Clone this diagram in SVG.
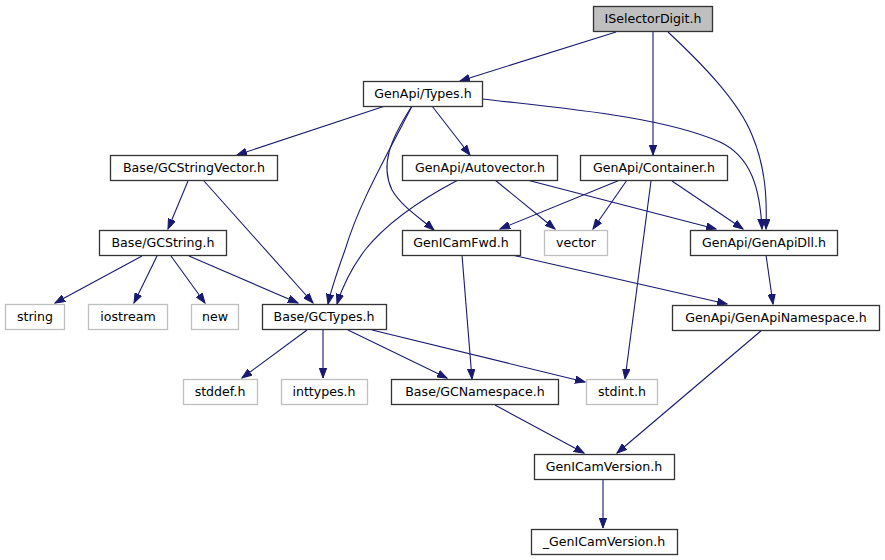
<svg xmlns="http://www.w3.org/2000/svg" width="885" height="560" viewBox="0 0 885 560">
<defs>
<marker id="ah" markerUnits="userSpaceOnUse" markerWidth="11" markerHeight="8" refX="10" refY="4" orient="auto">
<path d="M0,0.3 L10,4 L0,7.7 z" fill="#191970" stroke="#191970" stroke-width="1"/>
</marker>
<style>
.n rect{fill:#ffffff;stroke:#333333;stroke-width:1.3}
.g rect{fill:#ffffff;stroke:#bfbfbf;stroke-width:1.3}
text{font-family:"DejaVu Sans","Liberation Sans",sans-serif;font-size:12.6px;fill:#000;text-anchor:middle}
#edges path{fill:none;stroke:#191970;stroke-width:1.1;marker-end:url(#ah)}
</style>
</defs>
<rect width="885" height="560" fill="#ffffff"/>
<g id="edges">
<path d="M616,32 L460,81"/>
<path d="M653,32 L653,155"/>
<path d="M668,32 C700,62 738,100 752,135 C766,168 767,200 766,229"/>
<path d="M385,106 L237,155"/>
<path d="M412,106 C390,150 360,200 345,250 C336,275 331,290 328,304"/>
<path d="M412,106 C390,140 380,165 392,190 C402,207 420,218 434,230"/>
<path d="M432,106 L470,155"/>
<path d="M482,99 C560,108 660,116 720,142 C752,157 760,190 762,229"/>
<path d="M188,181 L168,229"/>
<path d="M204,181 L313,303"/>
<path d="M142,256 L55,303"/>
<path d="M157,256 L134,303"/>
<path d="M171,256 L205,303"/>
<path d="M189,256 L298,303"/>
<path d="M458,180 C420,200 385,225 365,250 C350,270 342,288 337,304"/>
<path d="M495,180 L555,229"/>
<path d="M527,180 L716,229"/>
<path d="M627,180 L593,229"/>
<path d="M620,180 L500,229"/>
<path d="M672,181 L743,229"/>
<path d="M651,181 L625,379"/>
<path d="M462,255 L472,379"/>
<path d="M512,255 L727,304"/>
<path d="M766,255 L773,304"/>
<path d="M307,330 L242,378"/>
<path d="M323,330 L323,378"/>
<path d="M348,330 L447,378"/>
<path d="M372,330 L585,382"/>
<path d="M495,405 L584,453"/>
<path d="M762,330 L617,453"/>
<path d="M603,479 L603,528"/>
</g>
<g id="ISelectorDigit" class="n"><rect x="593.5" y="6.5" width="119" height="25" style="fill:#bfbfbf"/><text x="653" y="22.5">ISelectorDigit.h</text></g>
<g id="Types" class="n"><rect x="363.5" y="81.5" width="119" height="25"/><text x="423" y="97.5">GenApi/Types.h</text></g>
<g id="Autovector" class="n"><rect x="402.5" y="155.5" width="155" height="25"/><text x="480" y="171.5">GenApi/Autovector.h</text></g>
<g id="Container" class="n"><rect x="580.5" y="155.5" width="147" height="25"/><text x="654" y="171.5">GenApi/Container.h</text></g>
<g id="GCStringVector" class="n"><rect x="110.5" y="155.5" width="167" height="25"/><text x="194" y="171.5">Base/GCStringVector.h</text></g>
<g id="GCString" class="n"><rect x="99.5" y="230.5" width="127" height="25"/><text x="163" y="246.5">Base/GCString.h</text></g>
<g id="GenICamFwd" class="n"><rect x="402.5" y="230.5" width="118" height="25"/><text x="461" y="246.5">GenICamFwd.h</text></g>
<g id="vector" class="g"><rect x="544.5" y="230.5" width="63" height="25"/><text x="576" y="246.5">vector</text></g>
<g id="GenApiDll" class="n"><rect x="690.5" y="230.5" width="147" height="25"/><text x="764" y="246.5">GenApi/GenApiDll.h</text></g>
<g id="string" class="g"><rect x="5.5" y="304.5" width="59" height="25"/><text x="35" y="320.5">string</text></g>
<g id="iostream" class="g"><rect x="88.5" y="304.5" width="79" height="25"/><text x="128" y="320.5">iostream</text></g>
<g id="new" class="g"><rect x="191.5" y="304.5" width="47" height="25"/><text x="215" y="320.5">new</text></g>
<g id="GCTypes" class="n"><rect x="262.5" y="304.5" width="124" height="25"/><text x="324" y="320.5">Base/GCTypes.h</text></g>
<g id="GenApiNamespace" class="n"><rect x="672.5" y="305.5" width="207" height="25"/><text x="776" y="321.5">GenApi/GenApiNamespace.h</text></g>
<g id="stddef" class="g"><rect x="183.5" y="379.5" width="74" height="25"/><text x="220" y="395.5">stddef.h</text></g>
<g id="inttypes" class="g"><rect x="281.5" y="379.5" width="86" height="25"/><text x="324" y="395.5">inttypes.h</text></g>
<g id="GCNamespace" class="n"><rect x="391.5" y="379.5" width="167" height="25"/><text x="475" y="395.5">Base/GCNamespace.h</text></g>
<g id="stdint" class="g"><rect x="586.5" y="379.5" width="71" height="25"/><text x="622" y="395.5">stdint.h</text></g>
<g id="GenICamVersion" class="n"><rect x="534.5" y="454.5" width="140" height="25"/><text x="604" y="470.5">GenICamVersion.h</text></g>
<g id="_GenICamVersion" class="n"><rect x="531.5" y="529.5" width="146" height="25"/><text x="604" y="545.5">_GenICamVersion.h</text></g>
</svg>
